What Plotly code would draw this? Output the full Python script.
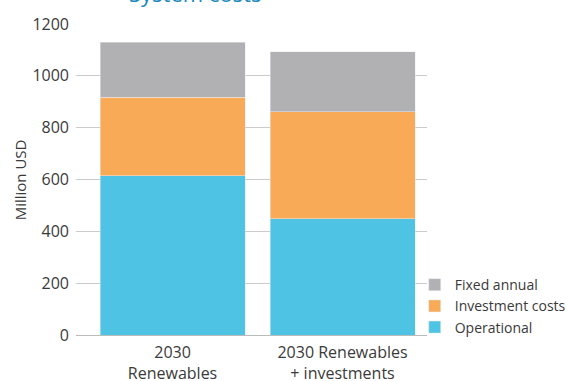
import plotly.graph_objects as go

categories = ["2030<br>Renewables", "2030 Renewables<br>+ investments"]
operational = [615, 448]
investment = [303, 414]
fixed_annual = [212, 230]
y_ticks = [0, 200, 400, 600, 800, 1000, 1200]

font = "Open Sans, sans-serif"
txt = "#3a3a3a"

fig = go.Figure()
fig.add_bar(x=categories, y=operational, name="Operational", marker_color="#4EC3E3", width=0.853)
fig.add_bar(x=categories, y=investment, name="Investment costs", marker_color="#F8AA56", width=0.853)
fig.add_bar(x=categories, y=fixed_annual, name="Fixed annual", marker_color="#B1B1B3", width=0.853)

fig.update_layout(
    width=567, height=381,
    margin=dict(l=76, r=140, t=24, b=46, autoexpand=False),
    barmode="stack",
    plot_bgcolor="white", paper_bgcolor="white",
    font=dict(family=font, color=txt, size=15),
    showlegend=True,
    legend=dict(x=0.965, y=-0.026, xanchor="left", yanchor="bottom", traceorder="reversed",
                font=dict(size=14, color=txt), itemwidth=30, tracegroupgap=0,
                bgcolor="rgba(0,0,0,0)"),
    xaxis=dict(type="category", range=[-0.568, 1.497], showgrid=False, showline=False,
               ticks="", ticklabelstandoff=6, tickfont=dict(size=16, color=txt)),
    yaxis=dict(range=[0, 1200], tickvals=y_ticks, showgrid=True, gridcolor="#cccccc",
               gridwidth=1, zeroline=True, zerolinecolor="#bbbbbb", zerolinewidth=1,
               showline=False, ticks="", ticklabelstandoff=6,
               tickfont=dict(size=16, color=txt)),
    annotations=[
        dict(text="Million USD", textangle=-90, x=-0.16, y=0.5, xref="paper", yref="paper",
             xanchor="center", yanchor="middle", showarrow=False,
             font=dict(size=15, color=txt, family=font)),
        dict(text="System costs", x=0.339, y=1.045, xref="paper", yref="paper",
             xanchor="center", yanchor="bottom", showarrow=False,
             font=dict(size=22, color="#1C88BC", family=font)),
    ],
)

fig.write_html("out.html", config={"displayModeBar": False},
               post_script="document.body.style.margin='0';document.body.style.overflow='hidden';")
